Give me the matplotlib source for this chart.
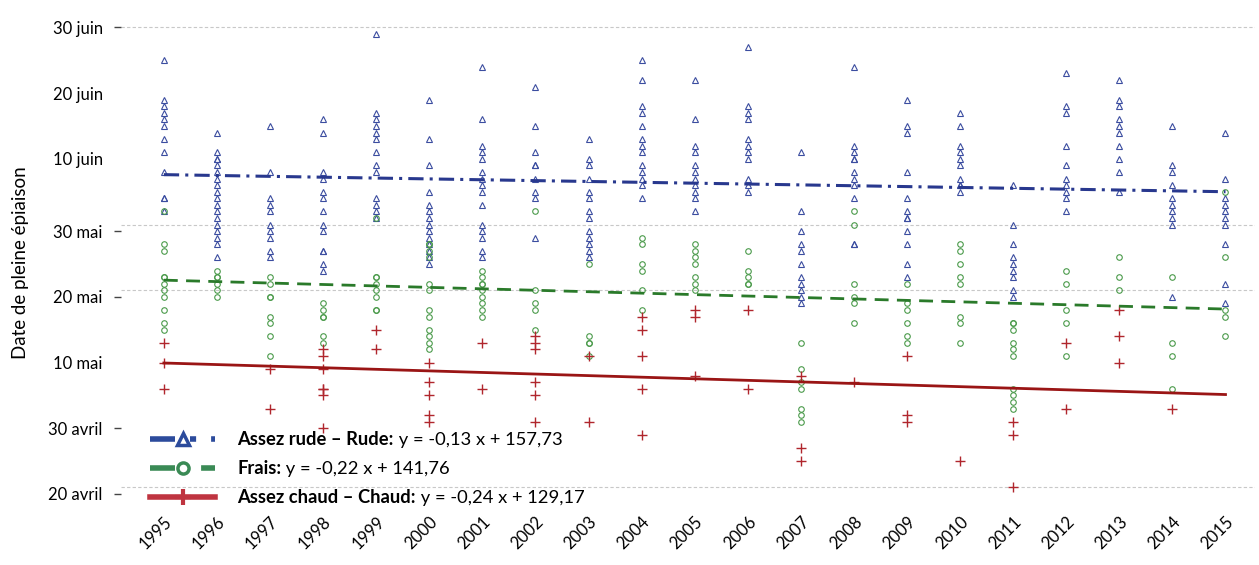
import matplotlib.pyplot as plt
from matplotlib.lines import Line2D

plt.rcParams['font.family'] = ['Lato', 'DejaVu Sans']

# ---------------------------------------------------------------
# Données : jour de pleine épiaison (jour de l'année) par année
# ---------------------------------------------------------------
years = list(range(1995, 2016))

rude = {
    1995: [175, 169, 168, 167, 166, 165, 163, 161, 158, 154, 154, 152],
    1996: [164, 161, 160, 160, 159, 158, 157, 156, 155, 154, 153, 152, 151, 150, 149, 148, 147, 145],
    1997: [165, 158, 154, 153, 152, 150, 149, 148, 146, 145],
    1998: [166, 164, 158, 157, 155, 154, 152, 150, 149, 146, 146, 144, 143],
    1999: [179, 167, 166, 165, 164, 163, 161, 159, 158, 154, 153, 152, 151],
    2000: [169, 163, 159, 155, 153, 152, 151, 150, 149, 148, 147, 146, 145, 144],
    2001: [174, 166, 162, 161, 160, 158, 157, 156, 155, 153, 150, 149, 148, 146, 145],
    2002: [171, 165, 161, 159, 159, 157, 155, 154, 148],
    2003: [163, 160, 159, 157, 155, 154, 152, 151, 149, 148, 147, 146, 145],
    2004: [175, 172, 168, 167, 165, 163, 162, 161, 159, 158, 157, 156, 154],
    2005: [172, 166, 162, 161, 159, 158, 157, 156, 155, 154, 152],
    2006: [177, 168, 167, 166, 163, 162, 161, 160, 157, 156, 155],
    2007: [161, 152, 149, 147, 146, 144, 142, 141, 140, 139, 138],
    2008: [174, 162, 161, 160, 160, 158, 157, 156, 154, 147, 147],
    2009: [169, 165, 164, 158, 154, 152, 151, 151, 149, 147, 144, 142],
    2010: [167, 165, 162, 161, 160, 159, 157, 156, 156, 155],
    2011: [156, 150, 147, 145, 144, 143, 142, 140, 139],
    2012: [173, 168, 167, 162, 159, 157, 156, 155, 154, 152],
    2013: [172, 169, 168, 166, 165, 164, 162, 160, 158, 155],
    2014: [165, 159, 158, 156, 154, 153, 152, 151, 150, 139],
    2015: [164, 157, 154, 153, 152, 151, 150, 147, 141, 138],
}

frais = {
    1995: [152, 147, 146, 142, 142, 141, 140, 139, 137, 135, 134],
    1996: [143, 142, 142, 141, 140, 139],
    1997: [142, 141, 139, 139, 136, 135, 133, 130],
    1998: [138, 137, 136, 136, 133, 132],
    1999: [151, 142, 142, 141, 140, 139, 137, 137],
    2000: [147, 147, 146, 145, 141, 140, 137, 136, 134, 133, 132, 131],
    2001: [143, 142, 141, 141, 140, 139, 138, 137, 136],
    2002: [152, 140, 138, 137, 134],
    2003: [144, 133, 132, 132, 130],
    2004: [148, 147, 144, 143, 140, 137],
    2005: [147, 146, 145, 144, 142, 141, 140],
    2006: [146, 143, 142, 141, 141],
    2007: [132, 128, 126, 125, 122, 121, 120],
    2008: [152, 150, 141, 139, 138, 135],
    2009: [141, 138, 137, 135, 133, 132],
    2010: [147, 146, 144, 142, 141, 136, 135, 132],
    2011: [135, 135, 134, 132, 131, 130, 125, 124, 123, 122],
    2012: [143, 141, 137, 135, 130],
    2013: [145, 142, 140],
    2014: [142, 132, 130, 125],
    2015: [155, 145, 137, 136, 133],
}

chaud = {
    1995: [132, 129, 125],
    1996: [],
    1997: [128, 122],
    1998: [131, 130, 128, 125, 125, 124, 119],
    1999: [134, 131],
    2000: [129, 126, 124, 121, 120],
    2001: [132, 125],
    2002: [133, 132, 131, 126, 124, 120],
    2003: [130, 120],
    2004: [136, 134, 130, 125, 118],
    2005: [137, 136, 127],
    2006: [137, 125],
    2007: [127, 116, 114],
    2008: [126],
    2009: [130, 121, 120],
    2010: [114],
    2011: [120, 118, 110],
    2012: [132, 122],
    2013: [137, 133, 129],
    2014: [122],
    2015: [],
}

# équations des tendances (x = année - 1994)
trend_rude = (-0.13, 157.73)
trend_frais = (-0.22, 141.76)
trend_chaud = (-0.24, 129.17)

tick_days = [180, 170, 160, 149, 139, 129, 119, 109]
tick_labels = ['30 juin', '20 juin', '10 juin', '30 mai', '20 mai', '10 mai', '30 avril', '20 avril']
ticks_with_mark = ['30 juin', '30 mai', '20 mai', '30 avril', '20 avril']
grid_days = [180, 150, 140, 110]

legend_names = ['Assez rude – Rude:', 'Frais:', 'Assez chaud – Chaud:']
legend_eqs = [' y = -0,13 x + 157,73', ' y = -0,22 x + 141,76', ' y = -0,24 x + 129,17']

# couleurs
blue_pt, blue_ln, blue_lg = '#3b4da0', '#28388e', '#2c4b9c'
green_pt, green_ln, green_lg = '#4a9a4a', '#2a7a2a', '#3a8a55'
red_pt, red_ln, red_lg = '#b0262d', '#9a1515', '#bf3440'

# ---------------------------------------------------------------
fig = plt.figure(figsize=(12.59, 5.65), dpi=100)
ax = fig.add_axes([0.096, 0.106, 0.901, 0.857])

for yv in grid_days:
    ax.axhline(yv, color='#c8c8c8', lw=0.8, ls=(0, (3, 2)), zorder=0)

for yr in years:
    r = rude[yr]
    ax.plot([yr] * len(r), r, ls='none', marker='^', ms=5, mfc='none',
            mec=blue_pt, mew=0.8, zorder=2)
    f = frais[yr]
    ax.plot([yr] * len(f), f, ls='none', marker='o', ms=4, mfc='none',
            mec=green_pt, mew=0.8, zorder=2)
    c = chaud[yr]
    ax.plot([yr] * len(c), c, ls='none', marker='+', ms=7, mec=red_pt,
            mew=1.0, zorder=2)

xs = [yr - 1994 for yr in years]
ax.plot(years, [trend_rude[0] * x + trend_rude[1] for x in xs], color=blue_ln,
        lw=2.2, dashes=(5, 2, 1, 2), zorder=3)
ax.plot(years, [trend_frais[0] * x + trend_frais[1] for x in xs], color=green_ln,
        lw=2.0, dashes=(5, 3), zorder=3)
ax.plot(years, [trend_chaud[0] * x + trend_chaud[1] for x in xs], color=red_ln,
        lw=2.0, zorder=3)

ax.set_xlim(1994.19, 2015.56)
ax.set_ylim(107.3, 181.0)

ax.set_yticks(tick_days)
ax.set_yticklabels(tick_labels, fontsize=12)
ax.tick_params(axis='y', length=5, width=1, color='#444444', pad=8)
for t, lab in zip(ax.yaxis.get_major_ticks(), tick_labels):
    if lab not in ticks_with_mark:
        t.tick1line.set_visible(False)

ax.set_xticks(years)
ax.set_xticklabels([str(y) for y in years], rotation=45, ha='right',
                   rotation_mode='anchor', fontsize=12)
ax.tick_params(axis='x', length=0, pad=6)

for s in ax.spines.values():
    s.set_visible(False)

ax.set_ylabel('Date de pleine épiaison', fontsize=13.5, labelpad=14)

# légende : traits + marqueurs, nom en gras puis équation
handles = [
    Line2D([], [], color=blue_lg, lw=4, dashes=(4.5, 2.7, 1.1, 2.7),
           dash_capstyle='butt', marker='^', ms=9, mfc='none', mew=2.5),
    Line2D([], [], color=green_lg, lw=4, dashes=(4.5, 4.7),
           dash_capstyle='butt', marker='o', ms=8, mfc='none', mew=2.5),
    Line2D([], [], color=red_lg, lw=4, marker='+', ms=11, mew=3),
]
leg = ax.legend(handles, legend_names, loc='lower left',
                bbox_to_anchor=(0.013, -0.033), frameon=False,
                prop={'size': 13.2, 'weight': 'bold'}, handlelength=3.55,
                handletextpad=1.2, labelspacing=0.66, borderpad=0.3)
leg.set_zorder(5)
for txt, eq in zip(leg.get_texts(), legend_eqs):
    ax.annotate(eq, xy=(1, 0), xycoords=txt, va='bottom', ha='left',
                fontsize=13.2, zorder=6)

fig.savefig('out.png', dpi=100)
